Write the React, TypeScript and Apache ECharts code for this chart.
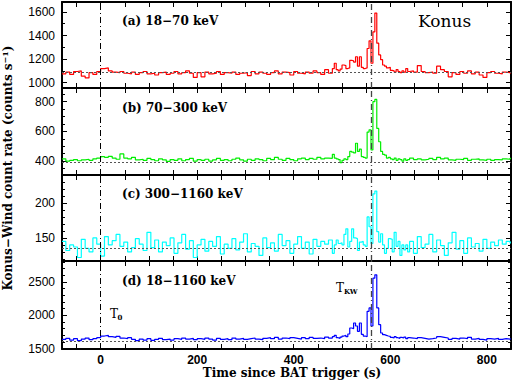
import React, { useEffect, useRef } from "react";
import * as echarts from "echarts";

// Bin start times (s): 8 s bins, 4 s bins around the burst, then 8 s bins
function range(a: number, b: number, s: number) {
  const r: number[] = [];
  for (let t = a; t < b; t += s) r.push(t);
  return r;
}
const binStarts = [...range(-80, 480, 8), ...range(480, 640, 4), ...range(640, 850, 8)];
const tEnd = 850;

const rateA = [
  1075, 1090, 1070, 1095, 1100, 1055, 1040, 1085, 1070, 1095,
  1120, 1125, 1100, 1090, 1085, 1095, 1080, 1075, 1090, 1070,
  1085, 1095, 1075, 1080, 1065, 1085, 1090, 1070, 1080, 1095,
  1075, 1085, 1100, 1080, 1045, 1085, 1050, 1090, 1075, 1080,
  1095, 1070, 1085, 1080, 1090, 1070, 1080, 1085, 1060, 1095,
  1075, 1090, 1080, 1070, 1085, 1100, 1075, 1090, 1085, 1065,
  1095, 1080, 1075, 1090, 1080, 1100, 1085, 1070, 1110, 1080,
  // burst region (4 s bins, 480-636)
  1120, 1165, 1110, 1100, 1115, 1150, 1145, 1120, 1125, 1190,
  1185, 1175, 1220, 1140, 1220, 1130, 1120, 1125, 1290, 1355,
  1165, 1430, 1590, 1335, 1235, 1195, 1150, 1140, 1125, 1130,
  1105, 1100, 1090, 1110, 1095, 1085, 1100, 1090, 1120, 1095,
  // 640-848
  1100, 1090, 1145, 1095, 1085, 1090, 1080, 1140, 1110, 1095,
  1050, 1085, 1070, 1095, 1080, 1100, 1075, 1090, 1065, 1045,
  1085, 1095, 1080, 1075, 1090, 1085, 1080,
];

const rateB = [
  415, 400, 405, 410, 402, 408, 412, 405, 415, 420,
  430, 425, 432, 420, 412, 448, 420, 415, 425, 408,
  412, 405, 418, 410, 402, 415, 408, 398, 410, 405,
  415, 402, 410, 418, 400, 410, 405, 412, 400, 408,
  418, 405, 410, 402, 412, 420, 408, 400, 412, 405,
  415, 410, 402, 418, 410, 425, 412, 405, 418, 410,
  402, 415, 420, 410, 418, 412, 425, 415, 420, 418,
  445, 420, 415, 410, 390, 405, 415, 410, 430, 465,
  460, 455, 520, 465, 480, 430, 425, 420, 595, 610,
  475, 800, 815, 620, 530, 465, 445, 440, 420, 425,
  415, 410, 420, 405, 415, 410, 400, 415, 405, 410,
  420, 410, 415, 408, 412, 418, 410, 425, 415, 420,
  408, 405, 412, 410, 418, 405, 412, 415, 408, 405,
  412, 405, 410, 408, 415, 412, 418,
];

const rateC = [
  145, 132, 140, 137, 122, 148, 135, 130, 150, 141,
  124, 152, 140, 146, 155, 138, 144, 130, 136, 149,
  141, 132, 158, 136, 147, 130, 144, 139, 150, 128,
  143, 155, 134, 146, 122, 140, 148, 131, 145, 138,
  152, 127, 141, 135, 149, 133, 144, 156, 130, 142,
  138, 125, 150, 136, 143, 131, 155, 139, 146, 128,
  141, 152, 135, 144, 127, 148, 138, 145, 141, 147,
  128, 140, 147, 142, 143, 140, 155, 163, 137, 145,
  163, 150, 149, 132, 144, 145, 140, 138, 180, 166,
  142, 213, 217, 159, 144, 156, 140, 128, 135, 149,
  148, 130, 158, 138, 145, 125, 140, 133, 140, 130,
  145, 128, 152, 136, 141, 155, 130, 147, 139, 125,
  143, 158, 134, 146, 128, 150, 137, 142, 131, 148,
  135, 144, 139, 147, 141, 145, 143,
];

const rateD = [
  1640, 1655, 1630, 1650, 1620, 1645, 1660, 1635, 1650, 1665,
  1690, 1700, 1680, 1670, 1685, 1660, 1650, 1665, 1640, 1620,
  1645, 1630, 1650, 1625, 1640, 1655, 1635, 1645, 1630, 1650,
  1640, 1660, 1645, 1655, 1635, 1650, 1640, 1660, 1645, 1630,
  1655, 1640, 1650, 1635, 1660, 1645, 1655, 1640, 1650, 1660,
  1645, 1635, 1655, 1665, 1650, 1670, 1645, 1660, 1650, 1665,
  1655, 1645, 1665, 1650, 1670, 1655, 1660, 1650, 1675, 1660,
  1680, 1700, 1665, 1655, 1675, 1690, 1700, 1680, 1720, 1810,
  1800, 1885, 1840, 1760, 1885, 1715, 1690, 1680, 2060, 2110,
  1840, 2555, 2605, 2110, 1860, 1735, 1710, 1700, 1690, 1685,
  1670, 1660, 1680, 1665, 1655, 1670, 1660, 1675, 1650, 1665,
  1660, 1650, 1665, 1655, 1645, 1650, 1660, 1680, 1670, 1660,
  1640, 1655, 1645, 1660, 1650, 1670, 1645, 1655, 1640, 1630,
  1650, 1645, 1655, 1640, 1650, 1645, 1650,
];

const baselines = [1085, 395, 135, 1612];
const triggerT0 = 0;
const triggerTKW = 560;

const xTicks = range(-50, 851, 50);
const xLabels = [0, 200, 400, 600, 800];

const panels = [
  { name: "(a) 18\u221270 keV", values: rateA, color: "#ff0000", min: 955, max: 1684,
    labels: [1000, 1200, 1400, 1600], minor: range(1000, 1684, 100) },
  { name: "(b) 70\u2212300 keV", values: rateB, color: "#00ee00", min: 306, max: 892,
    labels: [400, 600, 800], minor: range(350, 892, 50) },
  { name: "(c) 300\u22121160 keV", values: rateC, color: "#00ffff", min: 117, max: 240,
    labels: [150, 200], minor: range(120, 240, 10) },
  { name: "(d) 18\u22121160 keV", values: rateD, color: "#0000ff", min: 1496, max: 2812,
    labels: [1500, 2000, 2500], minor: range(1500, 2812, 100) },
];

const gridBoxes = [
  { top: 2, height: 86 },
  { top: 88, height: 87 },
  { top: 175, height: 86 },
  { top: 261, height: 88 },
];

const SERIF = "'DejaVu Serif', serif";
const SANS = "'Liberation Sans', Arial, sans-serif";

export default function App() {
  const ref = useRef<HTMLDivElement>(null);
  useEffect(() => {
    document.body.style.margin = "0";
    if (!ref.current) return;
    const chart = echarts.init(ref.current, null, { renderer: "svg" });

    const grid = gridBoxes.map((g) => ({ left: 62, right: 1, top: g.top, height: g.height }));
    const xAxis: any[] = [];
    const yAxis: any[] = [];
    const series: any[] = [];
    const frameLine = { show: true, onZero: false, lineStyle: { color: "#000", width: 2 } };
    const noLine = { show: false, onZero: false };
    const fmt = (v: number) => String(v);

    panels.forEach((p, i) => {
      ["bottom", "top"].forEach((pos) => {
        xAxis.push({
          type: "value", gridIndex: i, min: -80, max: 850, position: pos,
          axisLine: frameLine,
          axisTick: { show: true, inside: true, length: 5, customValues: xTicks, lineStyle: { color: "#000", width: 1 } },
          axisLabel: {
            show: pos === "bottom" && i === 3, customValues: xLabels, margin: 5, formatter: fmt,
            color: "#000", fontFamily: SANS, fontSize: 12, fontWeight: "bold",
          },
          splitLine: { show: false },
        });
      });
      ["left", "right"].forEach((pos) => {
        yAxis.push({
          type: "value", gridIndex: i, min: p.min, max: p.max, position: pos,
          axisLine: frameLine,
          axisTick: { show: true, inside: true, length: 5, customValues: p.labels, lineStyle: { color: "#000", width: 1 } },
          axisLabel: {
            show: pos === "left", customValues: p.labels, margin: 7, formatter: fmt,
            color: "#000", fontFamily: SANS, fontSize: 12,
          },
          splitLine: { show: false },
        });
        yAxis.push({
          type: "value", gridIndex: i, min: p.min, max: p.max, position: pos,
          axisLine: noLine,
          axisTick: { show: true, inside: true, length: 3, customValues: p.minor, lineStyle: { color: "#000", width: 1 } },
          axisLabel: { show: false },
          splitLine: { show: false },
        });
      });
      const data = binStarts.map((t, k) => [t, p.values[k]]);
      data.push([tEnd, p.values[p.values.length - 1]]);
      series.push({
        type: "line", xAxisIndex: 2 * i, yAxisIndex: 4 * i, step: "end",
        symbol: "none", data, lineStyle: { color: p.color, width: 1.2 },
        markLine: {
          silent: true, symbol: "none", label: { show: false }, animation: false,
          data: [
            { yAxis: baselines[i], lineStyle: { type: [2, 2], color: "#555", width: 1.2 } },
            { xAxis: triggerT0, lineStyle: { type: [6, 3, 1, 3], color: "#000", width: 1 } },
            { xAxis: triggerTKW, lineStyle: { type: [6, 3, 1, 3], color: "#444", width: 1.3 } },
          ],
        },
      });
    });

    const graphic: any[] = panels.map((p, i) => ({
      type: "text", x: 122, y: [21, 108, 194, 281][i],
      style: { text: p.name, font: `bold 12px ${SERIF}`, fill: "#000", textVerticalAlign: "middle" },
    }));
    graphic.push(
      { type: "text", x: 418, y: 21, style: { text: "Konus", font: `17px ${SERIF}`, fill: "#000", textVerticalAlign: "middle" } },
      { type: "text", x: 110, y: 314, style: { text: "T", font: `12px ${SERIF}`, fill: "#000", textVerticalAlign: "middle" } },
      { type: "text", x: 117.5, y: 317.5, style: { text: "0", font: `bold 7px ${SERIF}`, fill: "#000", textVerticalAlign: "middle" } },
      { type: "text", x: 336, y: 287.5, style: { text: "T", font: `12px ${SERIF}`, fill: "#000", textVerticalAlign: "middle" } },
      { type: "text", x: 344, y: 291, style: { text: "KW", font: `bold 7px ${SERIF}`, fill: "#000", textVerticalAlign: "middle" } },
      { type: "text", x: 292, y: 373, style: { text: "Time since BAT trigger (s)", font: `bold 12px ${SERIF}`, fill: "#000", textAlign: "center", textVerticalAlign: "middle" } },
      {
        type: "text", x: 8, y: 168, rotation: Math.PI / 2,
        style: {
          text: "{a|Konus\u2212Wind count rate (counts s}{s|\u22121}{a|)}",
          fill: "#000", textAlign: "center", textVerticalAlign: "middle",
          rich: {
            a: { font: `bold 12px ${SERIF}`, fill: "#000" },
            s: { font: `bold 8px ${SERIF}`, fill: "#000", padding: [0, 0, 6, 0] },
          },
        },
      }
    );

    chart.setOption({ animation: false, grid, xAxis, yAxis, series, graphic });
    return () => chart.dispose();
  }, []);
  return <div ref={ref} style={{ width: 512, height: 381 }} />;
}
